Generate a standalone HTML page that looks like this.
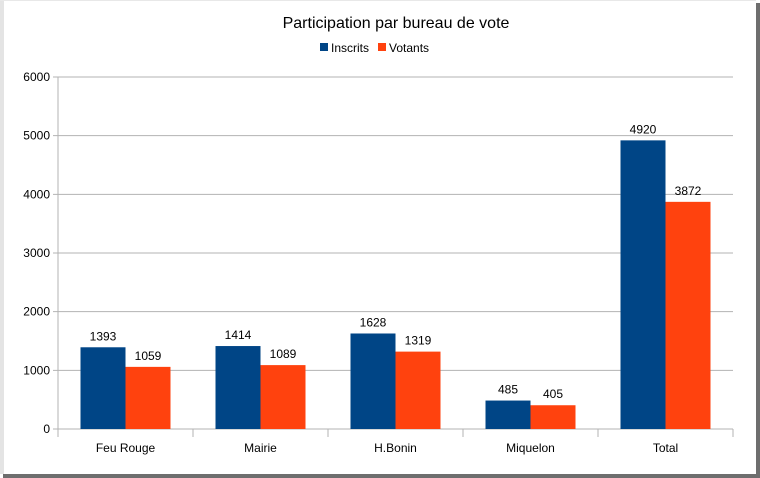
<!DOCTYPE html>
<html><head><meta charset="utf-8"><style>
body{margin:0;background:#fff;}
svg{display:block;font-family:"Liberation Sans",sans-serif;}
</style></head><body>
<svg id="c" width="760" height="478">
<rect x="0" y="0" width="760" height="478" fill="#fff"/>
<rect x="0" y="0" width="4" height="474" fill="#e4e4e4"/>
<rect x="0" y="0" width="756" height="1" fill="#e8e8e8"/>
<rect x="756" y="3" width="4" height="475" fill="#6e6e6e"/>
<rect x="3" y="474" width="757" height="4" fill="#6e6e6e"/>
<text x="396" y="28" font-size="16" text-anchor="middle" fill="#000">Participation par bureau de vote</text>
<g>
<rect x="320" y="43" width="8" height="8" fill="#004586"/>
<text x="331" y="52" font-size="12">Inscrits</text>
<rect x="378" y="43" width="8" height="8" fill="#ff420e"/>
<text x="389" y="52" font-size="12">Votants</text>
</g>
<g id="g"></g>
</svg>
<script>
const categories=["Feu Rouge","Mairie","H.Bonin","Miquelon","Total"];
const inscrits=[1393,1414,1628,485,4920];
const votants=[1059,1089,1319,405,3872];
const yTicks=[0,1000,2000,3000,4000,5000,6000];
const X0=58,X1=733,Y0=429,Y1=77,YMAX=6000;
const NS="http://www.w3.org/2000/svg";
const g=document.getElementById("g");
function y(v){return Y0-(v/YMAX)*(Y0-Y1);}
const cw=(X1-X0)/categories.length;
function mk(t,a){const e=document.createElementNS(NS,t);for(const k in a)e.setAttribute(k,a[k]);g.appendChild(e);return e;}
yTicks.forEach(t=>{
  const l=mk("line",{x1:X0-5,x2:X1,y1:y(t),y2:y(t),stroke:"#b3b3b3","stroke-width":1});
  
  
  const tx=mk("text",{x:X0-8,y:y(t)+4,"font-size":12,"text-anchor":"end"});
  tx.textContent=t;
  
  
});
const ax=mk("line",{x1:X0,x2:X0,y1:Y1,y2:Y0,stroke:"#b3b3b3"});


const rx=mk("line",{x1:X1,x2:X1,y1:Y0,y2:Y0+8,stroke:"#b3b3b3"});


categories.forEach((c,i)=>{
  const cx=X0+cw*i;
  const tk=mk("line",{x1:cx,x2:cx,y1:Y0,y2:Y0+8,stroke:"#b3b3b3"});
  
  
  const bw=cw/3, gap=cw/6;
  [[inscrits,"#004586","inscrits"],[votants,"#ff420e","votants"]].forEach(([arr,col,nm],j)=>{
    const v=arr[i],bx=cx+gap+j*bw;
    const r=mk("rect",{x:bx,y:y(v),width:bw,height:Y0-y(v),fill:col});
    
    
    const t=mk("text",{x:bx+bw/2,y:y(v)-7,"font-size":12,"text-anchor":"middle"});
    t.textContent=v;
    
    
  });
  const lb=mk("text",{x:cx+cw/2,y:452,"font-size":12,"text-anchor":"middle"});
  lb.textContent=c;
  
  
});
</script>
</body></html>
